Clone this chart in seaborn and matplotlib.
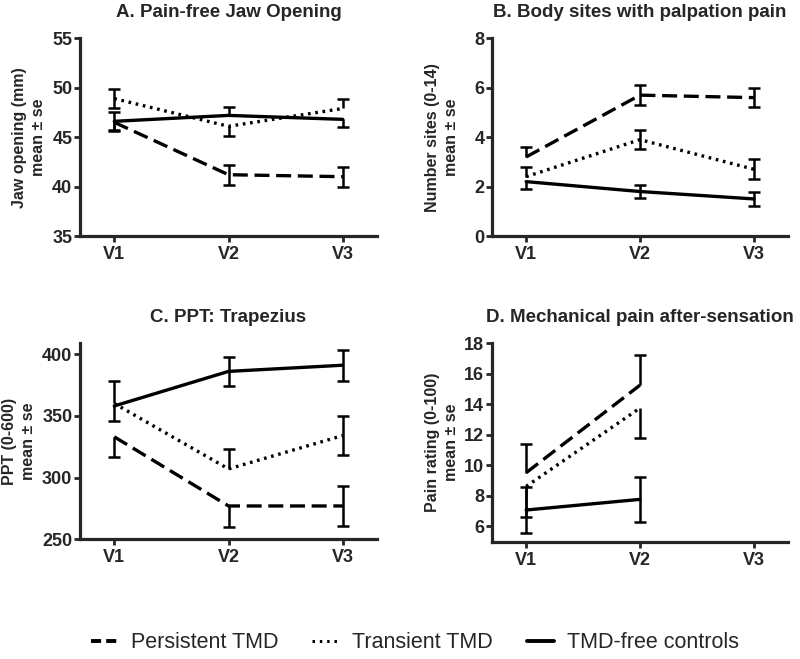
import numpy as np
import pandas as pd
import matplotlib
matplotlib.use("Agg")
import matplotlib.pyplot as plt
from matplotlib.lines import Line2D
import seaborn as sns

sns.set_style("ticks")
plt.rcParams["font.family"] = ["Liberation Sans", "DejaVu Sans"]

# ---------------- data ----------------
visits = ["V1", "V2", "V3"]
groups = ["Persistent TMD", "Transient TMD", "TMD-free controls"]

# A. Pain-free jaw opening (mm): rows = groups, cols = visits
jaw_mean = [[46.5, 41.2, 41.0], [48.9, 46.1, 47.9], [46.6, 47.2, 46.8]]
jaw_se_lo = [[0.9, 1.0, 1.0], [1.0, 1.0, 0.0], [0.9, 0.0, 0.75]]
jaw_se_hi = [[0.0, 1.0, 1.0], [1.0, 0.0, 1.0], [0.9, 0.8, 0.0]]

# B. Body sites with palpation pain
sites_mean = [[3.2, 5.7, 5.6], [2.4, 3.9, 2.7], [2.2, 1.8, 1.5]]
sites_se_lo = [[0.0, 0.4, 0.4], [0.0, 0.38, 0.4], [0.3, 0.28, 0.28]]
sites_se_hi = [[0.4, 0.4, 0.4], [0.4, 0.38, 0.4], [0.0, 0.28, 0.28]]

# C. PPT: Trapezius
ppt_mean = [[333, 277, 277], [360, 307, 334], [358, 386, 391]]
ppt_se_lo = [[16, 17, 16], [0, 0, 16], [12, 12, 12.5]]
ppt_se_hi = [[0, 0, 16], [18, 16, 16], [0, 12, 12.5]]

# D. Mechanical pain after-sensation (no V3 data)
pain_mean = [[9.5, 15.25, np.nan], [8.6, 13.75, np.nan], [7.05, 7.75, np.nan]]
pain_se_lo = [[0.0, 0.0, np.nan], [2.0, 2.0, np.nan], [1.5, 1.48, np.nan]]
pain_se_hi = [[1.9, 2.0, np.nan], [0.0, 0.0, np.nan], [1.5, 1.48, np.nan]]

titles = ["A. Pain-free Jaw Opening", "B. Body sites with palpation pain",
          "C. PPT: Trapezius", "D. Mechanical pain after-sensation"]
ylabels = ["Jaw opening (mm)\nmean \u00b1 se", "Number sites (0-14)\nmean \u00b1 se",
           "PPT (0-600)\nmean \u00b1 se", "Pain rating (0-100)\nmean \u00b1 se"]
yticks_list = [[35, 40, 45, 50, 55], [0, 2, 4, 6, 8], [250, 300, 350, 400],
               [6, 8, 10, 12, 14, 16, 18]]

# ---------------- styling / layout ----------------
dash_map = {"Persistent TMD": (4.5, 2.0), "Transient TMD": (0.8, 1.4),
            "TMD-free controls": ""}
W, H = 800, 659
fig = plt.figure(figsize=(W / 100, H / 100), dpi=100)

rects_px = [(80, 38.3, 377, 236), (492, 38.3, 788, 236),
            (80, 343, 377, 539.3), (492, 343.3, 788, 542)]
ylims = [(35, 55), (0, 8), (250, 409), (4.95, 18)]
label_x = [-0.115, -0.112, -0.148, -0.112]

panels = [(jaw_mean, jaw_se_lo, jaw_se_hi), (sites_mean, sites_se_lo, sites_se_hi),
          (ppt_mean, ppt_se_lo, ppt_se_hi), (pain_mean, pain_se_lo, pain_se_hi)]

for i, (mean, lo, hi) in enumerate(panels):
    l, t, r, b = rects_px[i]
    ax = fig.add_axes([l / W, (H - b) / H, (r - l) / W, (b - t) / H])
    rows = []
    for gi, g in enumerate(groups):
        for vi in range(len(visits)):
            rows.append({"group": g, "visit": vi, "value": mean[gi][vi]})
    df = pd.DataFrame(rows)
    sns.lineplot(data=df.dropna(), x="visit", y="value", style="group",
                 style_order=groups, dashes=dash_map, color="black",
                 linewidth=2.4, legend=False, ax=ax, errorbar=None,
                 estimator=None, sort=False)
    xs = np.arange(len(visits))
    for gi in range(len(groups)):
        m = np.array(mean[gi], dtype=float)
        el = np.array(lo[gi], dtype=float)
        eh = np.array(hi[gi], dtype=float)
        ok = ~np.isnan(m)
        ax.vlines(xs[ok], (m - el)[ok], (m + eh)[ok], colors="black", lw=1.8)
        sel = ok & (np.nan_to_num(el) > 0)
        ax.plot(xs[sel], (m - el)[sel], ls="none", marker="_", ms=8, mew=1.8,
                color="black")
        sel = ok & (np.nan_to_num(eh) > 0)
        ax.plot(xs[sel], (m + eh)[sel], ls="none", marker="_", ms=8, mew=1.8,
                color="black")

    ax.set_xlim(-0.3, 2.3)
    ax.set_xticks(xs)
    ax.set_xticklabels(visits)
    ax.set_ylim(*ylims[i])
    ax.set_yticks(yticks_list[i])
    sns.despine(ax=ax)
    for s in ("left", "bottom"):
        ax.spines[s].set_linewidth(2.3)
    ax.tick_params(axis="both", width=2.0, length=4, labelsize=13)
    ax.tick_params(axis="y", pad=1.5)
    ax.tick_params(axis="x", pad=3)
    for lab in ax.get_xticklabels() + ax.get_yticklabels():
        lab.set_fontweight("bold")
    ax.set_xlabel("")
    ax.set_title(titles[i], fontweight="bold", fontsize=13.5, pad=15)
    ax.set_ylabel(ylabels[i], fontweight="bold", fontsize=11.5, linespacing=1.3)
    ax.yaxis.set_label_coords(label_x[i], 0.5)

handles = [Line2D([], [], color="black", lw=2.8, dashes=(2.6, 1.3)),
           Line2D([], [], color="black", lw=2.2, dashes=(0.8, 1.6)),
           Line2D([], [], color="black", lw=2.8)]
fig.legend(handles, groups, loc="center", bbox_to_anchor=(415 / W, 16 / H),
           ncol=3, frameon=False, fontsize=15.5, handlelength=1.25,
           handletextpad=0.6, columnspacing=1.6)

fig.savefig("out.png", dpi=100)
